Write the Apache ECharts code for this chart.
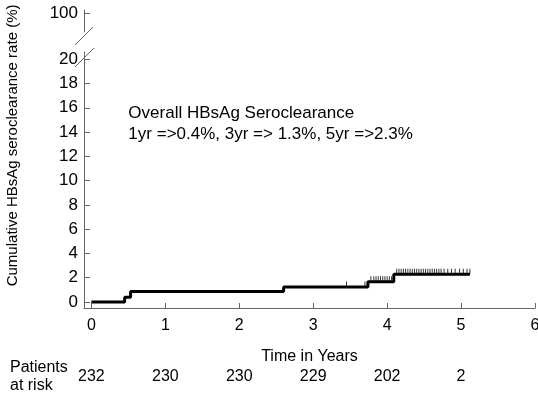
<!DOCTYPE html>
<html><head><meta charset="utf-8">
<script src="https://cdn.jsdelivr.net/npm/echarts@6/dist/echarts.min.js"></script>
<style>html,body{margin:0;padding:0;background:#fff}#c{width:538px;height:395px}</style>
</head><body><div id="c"></div>
<script>
// Data
const stepTimes  = [0, 0.45, 0.53, 2.60, 3.74, 4.09, 5.12];
const stepValues = [0, 0.39, 0.85, 1.23, 1.67, 2.28, 2.28];
const censorTimes = [3.45, 3.70, 3.78, 3.82, 3.85, 3.88, 3.91, 3.94, 3.97, 4.00, 4.03, 4.06,
  4.13, 4.16, 4.19, 4.22, 4.25, 4.28, 4.31, 4.34, 4.37, 4.40, 4.43, 4.46, 4.49, 4.52, 4.55,
  4.58, 4.61, 4.64, 4.67, 4.70, 4.73, 4.77, 4.82, 4.87, 4.92, 4.98, 5.03, 5.08, 5.12];
const xTicks = [0, 1, 2, 3, 4, 5, 6];
const yTicks = [0, 2, 4, 6, 8, 10, 12, 14, 16, 18, 20];
const yTopTicks = [100];
const riskTimes = [0, 1, 2, 3, 4, 5];
const riskCounts = [232, 230, 230, 229, 202, 2];
const noteLines = ['Overall HBsAg Seroclearance', '1yr =>0.4%, 3yr => 1.3%, 5yr =>2.3%'];
const yTitle = 'Cumulative HBsAg seroclearance rate (%)';

function levelAt(t) {
  let v = stepValues[0];
  for (let i = 0; i < stepTimes.length; i++) if (stepTimes[i] <= t) v = stepValues[i];
  return v;
}
const kmData = stepTimes.map((t, i) => [t, stepValues[i]]);
const censorData = censorTimes.map(t => [t, levelAt(t)]);
const riskMap = {}; riskTimes.forEach((t, i) => riskMap[t] = riskCounts[i]);

const FONT = 'Liberation Sans, Arial, sans-serif';
const axisColor = '#666';
const chart = echarts.init(document.getElementById('c'));
chart.setOption({
  animation: false,
  backgroundColor: '#fff',
  grid: [
    {left: 84, right: 3, top: 52, bottom: 87, outerBoundsMode: 'none', containLabel: false},
    {left: 84, right: 3, top: 10, height: 22, outerBoundsMode: 'none', containLabel: false}
  ],
  xAxis: [
    {gridIndex: 0, type: 'value', min: -0.1, max: 6,
     axisLine: {show: true, onZero: false, lineStyle: {color: axisColor}},
     axisTick: {show: true, inside: true, length: 5, customValues: xTicks, lineStyle: {color: axisColor}},
     axisLabel: {customValues: xTicks, color: '#000', fontSize: 16, fontFamily: FONT, margin: 10},
     splitLine: {show: false},
     name: 'Time in Years', nameLocation: 'middle', nameGap: 41,
     nameTextStyle: {color: '#000', fontSize: 16, fontFamily: FONT}},
    {gridIndex: 0, type: 'value', min: -0.1, max: 6, position: 'bottom', offset: 61,
     axisLine: {show: false, onZero: false}, axisTick: {show: false}, splitLine: {show: false},
     axisLabel: {customValues: riskTimes, formatter: v => String(riskMap[v] ?? ''),
       color: '#000', fontSize: 16, fontFamily: FONT, margin: 0}},
    {gridIndex: 1, type: 'value', min: -0.1, max: 6, show: false, axisLine: {onZero: false}}
  ],
  yAxis: [
    {gridIndex: 0, type: 'value', min: -0.5, max: 20.6,
     axisLine: {show: true, onZero: false, lineStyle: {color: axisColor}},
     axisTick: {show: true, inside: true, length: 6, customValues: yTicks, lineStyle: {color: axisColor}},
     axisLabel: {customValues: yTicks, color: '#000', fontSize: 17, fontFamily: FONT, margin: 6},
     splitLine: {show: false}},
    {gridIndex: 1, type: 'value', min: 95, max: 101,
     axisLine: {show: true, onZero: false, lineStyle: {color: axisColor}},
     axisTick: {show: true, inside: true, length: 6, customValues: yTopTicks, lineStyle: {color: axisColor}},
     axisLabel: {customValues: yTopTicks, color: '#000', fontSize: 17, fontFamily: FONT, margin: 6},
     splitLine: {show: false}}
  ],
  series: [
    {type: 'line', xAxisIndex: 0, yAxisIndex: 0, data: kmData, step: 'end',
     showSymbol: false, lineStyle: {color: '#000', width: 3}, z: 3},
    {type: 'scatter', xAxisIndex: 0, yAxisIndex: 0, data: censorData,
     symbol: 'rect', symbolSize: [1, 5], symbolOffset: [0, -3],
     itemStyle: {color: '#000'}, z: 4}
  ]
});

// Decorations: axis-break slashes, annotation, y title, "Patients at risk" label
const ax = chart.convertToPixel({xAxisIndex: 0}, -0.1);
const topBottom = chart.convertToPixel({yAxisIndex: 1}, 95);
const mainTop = chart.convertToPixel({yAxisIndex: 0}, 20.6);
const noteX = chart.convertToPixel({xAxisIndex: 0}, 0.5);
const noteY = chart.convertToPixel({yAxisIndex: 0}, 16.4);
const titleY = chart.convertToPixel({yAxisIndex: 0}, 12.9);
const riskY = chart.convertToPixel({yAxisIndex: 0}, -0.5) + 61 + 8;
chart.setOption({
  graphic: [
    {type: 'line', shape: {x1: ax - 9, y1: topBottom + 13, x2: ax + 9, y2: topBottom - 5},
     style: {stroke: axisColor, lineWidth: 1}},
    {type: 'line', shape: {x1: ax - 9, y1: mainTop + 15, x2: ax + 10, y2: mainTop - 4},
     style: {stroke: axisColor, lineWidth: 1}},
    {type: 'text', x: noteX, y: noteY, style: {text: noteLines.join('\n'), fill: '#000',
      font: '17px ' + FONT, lineHeight: 21}},
    {type: 'text', x: 13, y: titleY, rotation: Math.PI / 2,
     style: {text: yTitle, fill: '#000', font: '15px ' + FONT, align: 'center', verticalAlign: 'middle'}},
    {type: 'text', x: 10, y: riskY - 18, style: {text: 'Patients\nat risk', fill: '#000',
      font: '16px ' + FONT, lineHeight: 18}}
  ]
});
</script></body></html>
